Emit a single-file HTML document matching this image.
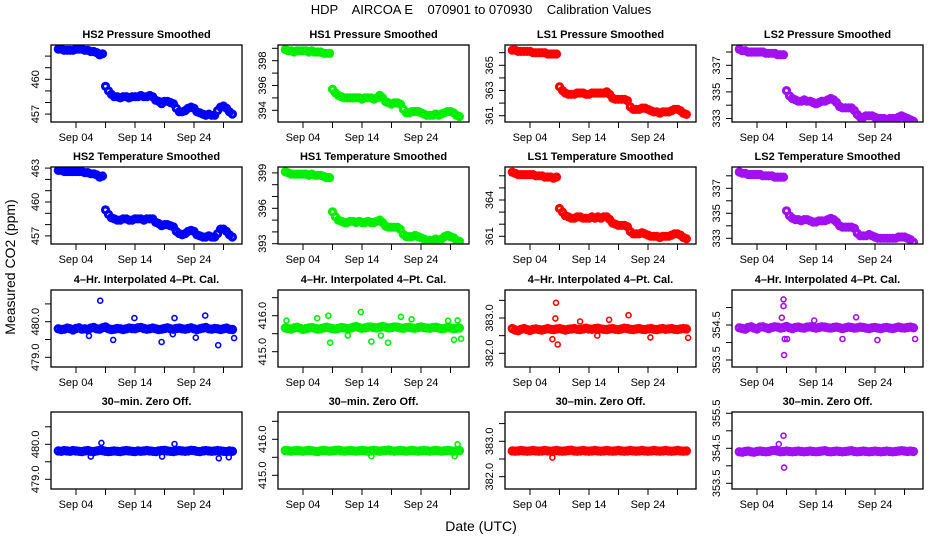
<!DOCTYPE html>
<html><head><meta charset="utf-8"><style>
html,body{margin:0;padding:0;background:#fff;}
svg{display:block;font-family:"Liberation Sans",Arial,sans-serif;}
</style></head><body>
<svg id="chart" width="936" height="540" viewBox="0 0 936 540" xmlns="http://www.w3.org/2000/svg">
<rect width="936" height="540" fill="#fff"/>
<text x="481" y="14" text-anchor="middle" font-size="13" xml:space="preserve" style="white-space:pre">HDP    AIRCOA E    070901 to 070930    Calibration Values</text>
<text transform="translate(15,267) rotate(-90)" text-anchor="middle" font-size="14">Measured CO2 (ppm)</text>
<text x="481" y="531" text-anchor="middle" font-size="14">Date (UTC)</text>
</svg>
<script>
// ---- data (half-day samples from Sep 1.0 to Sep 30.5) ----
const hs2PressVals=[462.6,462.6,462.5,462.5,462.5,462.5,462.6,462.6,462.6,462.5,462.5,462.4,462.4,462.3,462.1,462.2,
459.4,459.0,458.7,458.5,458.5,458.4,458.5,458.5,458.4,458.5,458.5,458.5,458.6,458.5,458.5,458.6,458.5,458.2,458.1,457.9,458.1,458.1,458.0,457.9,457.5,457.2,457.2,457.3,457.5,457.6,457.5,457.2,457.1,457.0,456.9,457.0,456.9,456.9,457.3,457.6,457.7,457.5,457.2,457.0];
const hs1PressVals=[398.9,398.8,398.8,398.7,398.8,398.8,398.8,398.8,398.7,398.8,398.7,398.7,398.7,398.6,398.6,398.6,
395.7,395.4,395.2,395.1,395.0,395.0,395.0,395.0,395.0,395.0,394.9,395.0,395.0,395.0,394.9,395.0,395.2,395.0,394.7,394.6,394.5,394.6,394.6,394.5,394.1,393.8,393.8,393.9,393.9,393.9,393.8,393.7,393.6,393.6,393.6,393.7,393.6,393.7,393.8,393.9,393.9,393.8,393.6,393.5];
const ls1PressVals=[366.2,366.2,366.1,366.1,366.1,366.1,366.1,366.0,366.0,366.0,366.0,366.0,365.9,365.9,365.9,365.9,
363.3,363.0,362.8,362.7,362.7,362.7,362.8,362.8,362.8,362.7,362.7,362.8,362.8,362.8,362.8,362.8,362.9,362.7,362.4,362.3,362.3,362.3,362.3,362.2,361.7,361.5,361.5,361.5,361.6,361.6,361.5,361.4,361.3,361.3,361.2,361.3,361.3,361.3,361.4,361.5,361.5,361.4,361.2,361.1];
const ls2PressVals=[338.2,338.1,338.1,338.0,338.0,338.0,338.0,338.0,338.0,337.9,337.9,337.9,337.9,337.8,337.8,337.8,
335.1,334.7,334.5,334.4,334.3,334.3,334.4,334.3,334.3,334.2,334.1,334.2,334.3,334.3,334.4,334.5,334.4,334.2,333.9,333.8,333.8,333.8,333.8,333.6,333.3,333.1,333.1,333.2,333.2,333.2,333.1,333.0,333.0,333.0,332.9,333.0,333.0,333.0,333.1,333.2,333.1,333.0,332.9,332.8];
const hs2TempVals=[462.8,462.8,462.7,462.7,462.7,462.7,462.7,462.7,462.7,462.6,462.6,462.5,462.5,462.4,462.2,462.3,
459.3,458.9,458.6,458.5,458.4,458.4,458.5,458.5,458.4,458.4,458.5,458.5,458.5,458.4,458.5,458.5,458.5,458.2,458.1,457.9,458.0,458.0,457.9,457.8,457.4,457.2,457.1,457.2,457.4,457.5,457.4,457.1,457.0,456.9,456.9,457.0,456.9,456.9,457.2,457.6,457.6,457.4,457.1,456.9];
const hs1TempVals=[399.1,399.0,398.9,398.9,398.9,398.9,398.9,398.9,398.8,398.9,398.8,398.8,398.8,398.7,398.6,398.6,
395.7,395.3,395.0,394.9,394.8,394.8,394.9,394.9,394.8,394.9,394.8,394.8,394.9,394.8,394.8,394.9,395.0,394.8,394.5,394.4,394.4,394.4,394.4,394.2,393.8,393.6,393.6,393.6,393.7,393.6,393.5,393.4,393.3,393.3,393.3,393.4,393.3,393.4,393.6,393.7,393.6,393.5,393.3,393.2];
const ls1TempVals=[366.3,366.2,366.1,366.1,366.1,366.1,366.1,366.1,366.0,366.0,366.0,365.9,365.9,365.9,365.8,365.9,
363.3,363.0,362.7,362.6,362.5,362.5,362.6,362.6,362.5,362.5,362.5,362.6,362.5,362.6,362.5,362.6,362.6,362.4,362.1,362.0,361.9,361.9,361.9,361.8,361.4,361.2,361.2,361.2,361.3,361.2,361.1,361.0,361.0,361.0,360.9,361.0,361.0,361.0,361.1,361.2,361.2,361.1,360.9,360.8];
const ls2TempVals=[338.3,338.2,338.2,338.1,338.1,338.1,338.1,338.1,338.0,338.0,338.0,338.0,337.9,337.9,337.9,337.9,
335.2,334.8,334.6,334.5,334.5,334.4,334.5,334.5,334.4,334.3,334.3,334.4,334.4,334.4,334.5,334.6,334.5,334.3,334.0,333.9,333.9,333.9,333.9,333.8,333.4,333.2,333.2,333.2,333.3,333.2,333.1,333.0,333.0,333.0,333.0,333.0,333.0,333.0,333.1,333.1,333.1,333.0,332.9,332.7];
const hs2CalVals=[479.80,479.78,479.79,479.82,479.80,479.77,479.81,479.83,479.79,479.80,479.78,479.82,479.84,479.80,479.79,479.83,479.85,479.80,479.78,479.79,479.81,479.80,479.78,479.80,479.82,479.81,479.80,479.83,479.84,479.81,479.79,479.80,479.82,479.80,479.78,479.79,479.81,479.83,479.80,479.79,479.81,479.82,479.80,479.79,479.81,479.83,479.80,479.78,479.80,479.82,479.84,479.80,479.79,479.81,479.80,479.78,479.80,479.82,479.79,479.78];
const hs1CalVals=[415.66,415.64,415.63,415.66,415.68,415.65,415.62,415.64,415.66,415.67,415.65,415.63,415.64,415.66,415.68,415.66,415.64,415.63,415.65,415.67,415.66,415.64,415.65,415.68,415.70,415.67,415.65,415.66,415.68,415.69,415.67,415.66,415.68,415.70,415.68,415.66,415.67,415.69,415.68,415.66,415.65,415.67,415.68,415.66,415.65,415.67,415.69,415.67,415.66,415.65,415.67,415.68,415.66,415.64,415.65,415.67,415.66,415.64,415.65,415.66];
const ls1CalVals=[382.70,382.66,382.64,382.68,382.70,382.67,382.65,382.68,382.69,382.67,382.66,382.68,382.70,382.68,382.67,382.69,382.70,382.68,382.66,382.68,382.69,382.70,382.68,382.67,382.69,382.71,382.69,382.68,382.70,382.71,382.69,382.68,382.67,382.69,382.70,382.68,382.67,382.69,382.71,382.70,382.68,382.67,382.69,382.70,382.68,382.67,382.69,382.70,382.68,382.67,382.69,382.70,382.68,382.69,382.70,382.68,382.67,382.69,382.70,382.69];
const ls2CalVals=[354.42,354.40,354.38,354.43,354.45,354.41,354.39,354.44,354.45,354.42,354.40,354.43,354.45,354.44,354.41,354.43,354.46,354.42,354.40,354.43,354.44,354.42,354.41,354.44,354.45,354.43,354.41,354.43,354.45,354.44,354.42,354.41,354.43,354.44,354.42,354.40,354.42,354.44,354.43,354.41,354.42,354.44,354.43,354.41,354.40,354.42,354.43,354.41,354.40,354.42,354.43,354.41,354.40,354.42,354.44,354.42,354.41,354.43,354.44,354.42];
const hs2ZeroVals=[479.81,479.80,479.82,479.81,479.80,479.82,479.81,479.80,479.79,479.81,479.82,479.80,479.79,479.81,479.83,479.82,479.80,479.79,479.80,479.81,479.80,479.79,479.81,479.82,479.81,479.80,479.79,479.81,479.80,479.81,479.82,479.81,479.80,479.79,479.81,479.82,479.83,479.81,479.80,479.79,479.81,479.82,479.81,479.80,479.81,479.83,479.82,479.80,479.79,479.81,479.82,479.81,479.80,479.81,479.82,479.81,479.80,479.79,479.81,479.80];
const hs1ZeroVals=[415.69,415.68,415.67,415.68,415.69,415.68,415.67,415.68,415.69,415.68,415.67,415.66,415.68,415.69,415.68,415.67,415.68,415.69,415.70,415.68,415.67,415.68,415.69,415.68,415.67,415.68,415.69,415.68,415.67,415.68,415.69,415.68,415.67,415.68,415.69,415.70,415.68,415.67,415.68,415.69,415.68,415.67,415.68,415.69,415.68,415.67,415.68,415.69,415.68,415.67,415.68,415.69,415.68,415.67,415.68,415.69,415.68,415.67,415.68,415.69];
const ls1ZeroVals=[382.73,382.72,382.73,382.74,382.73,382.72,382.73,382.74,382.73,382.72,382.73,382.74,382.73,382.72,382.73,382.74,382.73,382.72,382.73,382.74,382.75,382.73,382.72,382.73,382.74,382.73,382.72,382.73,382.74,382.73,382.72,382.73,382.74,382.73,382.72,382.73,382.74,382.73,382.72,382.73,382.74,382.73,382.72,382.73,382.74,382.73,382.72,382.73,382.74,382.73,382.72,382.73,382.74,382.73,382.72,382.73,382.74,382.73,382.72,382.73];
const ls2ZeroVals=[354.40,354.39,354.41,354.42,354.40,354.39,354.41,354.42,354.41,354.40,354.41,354.43,354.44,354.42,354.40,354.41,354.42,354.41,354.40,354.41,354.42,354.41,354.40,354.41,354.42,354.41,354.40,354.41,354.42,354.43,354.41,354.40,354.41,354.42,354.41,354.40,354.41,354.42,354.43,354.41,354.40,354.41,354.42,354.41,354.40,354.41,354.42,354.41,354.40,354.41,354.42,354.41,354.40,354.41,354.42,354.43,354.42,354.41,354.42,354.41];
// outliers
const hs2CalOutDays=[8.1,20.4,18.5,28.1,25.9,20.7,13.9,10.3,6.2,30.8,24.3];
const hs2CalOutVals=[480.59,479.65,479.43,479.34,480.17,480.10,480.10,479.49,479.60,479.54,479.55];
const hs1CalOutDays=[1.2,8.3,8.6,13.8,15.6,18.4,20.6,6.4,11.6,17.2,22.4,28.6,29.6,30.8,30.2];
const hs1CalOutVals=[415.86,416.00,415.25,416.10,415.28,415.25,415.97,415.93,415.45,415.45,415.90,415.86,415.33,415.36,415.87];
const ls1CalOutDays=[8.4,8.3,8.7,7.8,20.7,24.4,30.8,17.4,12.5,15.4];
const ls1CalOutVals=[383.43,382.99,382.25,382.40,383.08,382.45,382.44,382.95,382.90,382.50];
const ls2CalOutDays=[8.5,8.5,8.6,8.7,9.1,20.8,24.4,30.8,18.5,13.7,8.2];
const ls2CalOutVals=[355.23,355.04,353.64,354.10,354.10,354.72,354.07,354.10,354.10,354.63,354.71];
const hs2ZeroOutDays=[28.2,18.6,20.7,8.3,29.9,6.5];
const hs2ZeroOutVals=[479.60,479.65,480.01,480.04,479.63,479.65];
const hs1ZeroOutDays=[30.2,29.7,15.6];
const hs1ZeroOutVals=[415.86,415.53,415.53];
const ls1ZeroOutDays=[7.8];
const ls1ZeroOutVals=[382.54];
const ls2ZeroOutDays=[8.5,8.6,7.7];
const ls2ZeroOutVals=[354.86,353.95,354.62];
const tickDays=[4,9,14,19,24,29];
const tickDayLabels=["Sep 04","","Sep 14","","Sep 24",""];

const svg=document.getElementById('chart');
const NS='http://www.w3.org/2000/svg';
const days=[];for(let i=0;i<60;i++)days.push(1+i*0.5);
const colLeft=[51,278,505,732], rowTop=[45,167,290,412], W=191, H=77;
const COLORS=['#0000ff','#00ee00','#ff0000','#a010f0'];
function mk(tag,attrs,parent){const e=document.createElementNS(NS,tag);for(const k in attrs)e.setAttribute(k,attrs[k]);(parent||svg).appendChild(e);return e;}
const panels=[
 {r:0,c:0,t:'HS2 Pressure Smoothed',v:hs2PressVals,ref:460,refY:79.3,s:11.6,ticks:[457,458,459,460,461,462],labs:[457,460],fmt:0},
 {r:0,c:1,t:'HS1 Pressure Smoothed',v:hs1PressVals,ref:398,refY:60.7,s:12.4,ticks:[394,395,396,397,398,399],labs:[394,396,398],fmt:0},
 {r:0,c:2,t:'LS1 Pressure Smoothed',v:ls1PressVals,ref:365,refY:65.3,s:12.6,ticks:[361,362,363,364,365,366],labs:[361,363,365],fmt:0},
 {r:0,c:3,t:'LS2 Pressure Smoothed',v:ls2PressVals,ref:337,refY:65.3,s:13.3,ticks:[333,334,335,336,337,338],labs:[333,335,337],fmt:0},
 {r:1,c:0,t:'HS2 Temperature Smoothed',v:hs2TempVals,ref:460,refY:202,s:11.3,ticks:[457,458,459,460,461,462,463],labs:[457,460,463],fmt:0},
 {r:1,c:1,t:'HS1 Temperature Smoothed',v:hs1TempVals,ref:396,refY:208.3,s:11.8,ticks:[393,394,395,396,397,398,399],labs:[393,396,399],fmt:0},
 {r:1,c:2,t:'LS1 Temperature Smoothed',v:ls1TempVals,ref:364,refY:200,s:12.1,ticks:[361,362,363,364,365,366],labs:[361,364],fmt:0},
 {r:1,c:3,t:'LS2 Temperature Smoothed',v:ls2TempVals,ref:337,refY:188.3,s:12.5,ticks:[333,334,335,336,337,338],labs:[333,335,337],fmt:0},
 {r:2,c:0,t:'4\u2013Hr. Interpolated 4\u2013Pt. Cal.',v:hs2CalVals,od:hs2CalOutDays,ov:hs2CalOutVals,ref:480,refY:321.7,s:35.6,ticks:[479,479.5,480,480.5],labs:[479,480],fmt:1,cal:1},
 {r:2,c:1,t:'4\u2013Hr. Interpolated 4\u2013Pt. Cal.',v:hs1CalVals,od:hs1CalOutDays,ov:hs1CalOutVals,ref:416,refY:315.7,s:36,ticks:[415,415.5,416,416.5],labs:[415,416],fmt:1,cal:1},
 {r:2,c:2,t:'4\u2013Hr. Interpolated 4\u2013Pt. Cal.',v:ls1CalVals,od:ls1CalOutDays,ov:ls1CalOutVals,ref:383,refY:318,s:35.3,ticks:[382,382.5,383,383.5],labs:[382,383],fmt:1,cal:1},
 {r:2,c:3,t:'4\u2013Hr. Interpolated 4\u2013Pt. Cal.',v:ls2CalVals,od:ls2CalOutDays,ov:ls2CalOutVals,ref:354.5,refY:325,s:35,ticks:[353.5,354,354.5,355],labs:[353.5,354.5],fmt:1,cal:1},
 {r:3,c:0,t:'30\u2013min. Zero Off.',v:hs2ZeroVals,od:hs2ZeroOutDays,ov:hs2ZeroOutVals,ref:480,refY:444.3,s:35,ticks:[479,479.5,480,480.5],labs:[479,480],fmt:1,cal:1},
 {r:3,c:1,t:'30\u2013min. Zero Off.',v:hs1ZeroVals,od:hs1ZeroOutDays,ov:hs1ZeroOutVals,ref:416,refY:439.3,s:36,ticks:[415,415.5,416,416.5],labs:[415,416],fmt:1,cal:1},
 {r:3,c:2,t:'30\u2013min. Zero Off.',v:ls1ZeroVals,od:ls1ZeroOutDays,ov:ls1ZeroOutVals,ref:383,refY:441.3,s:35.4,ticks:[382,382.5,383,383.5],labs:[382,383],fmt:1,cal:1},
 {r:3,c:3,t:'30\u2013min. Zero Off.',v:ls2ZeroVals,od:ls2ZeroOutDays,ov:ls2ZeroOutVals,ref:354.5,refY:448.3,s:35,ticks:[353.5,354,354.5,355,355.5],labs:[353.5,354.5,355.5],fmt:1,cal:1}
];
panels.forEach((p,i)=>{
  const L=colLeft[p.c], T=rowTop[p.r], col=COLORS[p.c];
  const xs=d=>L+25+(d-4)*5.9;
  const ys=v=>p.refY-(v-p.ref)*p.s;
  const g=mk('g',{});
  
  
  const tt=mk('text',{x:L+W/2,y:T-7,'text-anchor':'middle','font-size':'11','font-weight':'bold'},g);
  tt.textContent=p.t;
  
  
  const clip=mk('clipPath',{id:'cp'+i},g);mk('rect',{x:L,y:T,width:W,height:H},clip);
  const pts=mk('g',{'clip-path':'url(#cp'+i+')',fill:'none',stroke:col},g);
  
  
  const rr=p.cal?3.2:3, sw=p.cal?3:3.2;
  p.v.forEach((v,j)=>{
    const c=mk('circle',{cx:xs(days[j]).toFixed(1),cy:ys(v).toFixed(1),r:rr,'stroke-width':sw},pts);
    
    
  });
  if(p.od){p.od.forEach((d,j)=>{
    const c=mk('circle',{cx:xs(d).toFixed(1),cy:ys(p.ov[j]).toFixed(1),r:2.5,'stroke-width':1.6},pts);
    
    
  });}
  const box=mk('rect',{x:L,y:T,width:W,height:H,fill:'none',stroke:'#000','stroke-width':1.3},g);
  
  
  const xa=mk('g',{stroke:'#000','stroke-width':1},g);
  
  
  mk('line',{x1:xs(tickDays[0]),x2:xs(tickDays[tickDays.length-1]),y1:T+H,y2:T+H},xa);
  tickDays.forEach((d,j)=>{
    mk('line',{x1:xs(d),x2:xs(d),y1:T+H,y2:T+H+6},xa);
    if(tickDayLabels[j]){const t=mk('text',{x:xs(d),y:T+H+19,'text-anchor':'middle','font-size':'11',stroke:'none'},g);t.textContent=tickDayLabels[j];
      
      }
  });
  const ya=mk('g',{stroke:'#000','stroke-width':1},g);
  
  
  mk('line',{x1:L,x2:L,y1:ys(p.ticks[0]),y2:ys(p.ticks[p.ticks.length-1])},ya);
  p.ticks.forEach(v=>mk('line',{x1:L-6,x2:L,y1:ys(v),y2:ys(v)},ya));
  p.labs.forEach(v=>{
    const yy=ys(v);
    const t=mk('text',{transform:'translate('+(L-12)+','+yy.toFixed(1)+') rotate(-90)','text-anchor':'middle','font-size':'11'},g);
    t.textContent=v.toFixed(p.fmt);
    
    
  });
});
</script>
</body></html>
